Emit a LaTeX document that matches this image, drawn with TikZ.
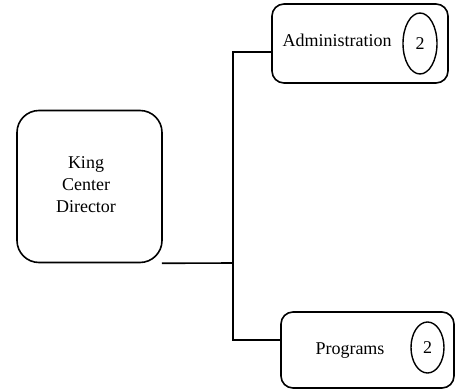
\documentclass[tikz,border=0pt]{standalone}
\usepackage{fontspec}
\setmainfont{Liberation Serif}
\usetikzlibrary{shapes.geometric}
\begin{document}
\begin{tikzpicture}[x=1pt,y=-1pt,
  box/.style={draw,line width=1.6pt,rounded corners=#1,inner sep=0pt},
  oval/.style={draw,ellipse,line width=1.4pt,inner sep=0pt},
  lbl/.style={font=\fontsize{18}{22}\selectfont,inner sep=0pt},
  conn/.style={line width=1.6pt}]
\useasboundingbox (0,0) rectangle (458,390);
\node[box=22pt,minimum width=145pt,minimum height=152pt] (dir) at (89.5,186.5) {};
\node[lbl,align=center] (dirtxt) at (86,185) {King\\Center\\Director};
\node[box=12pt,minimum width=176pt,minimum height=79pt] (adm) at (360,43.5) {};
\node[lbl] (admtxt) at (337,40) {Administration};
\node[oval,minimum width=34pt,minimum height=61pt] (admo) at (420,43.5) {};
\node[lbl] (admn) at (420,43.5) {2};
\node[box=12pt,minimum width=173pt,minimum height=76pt] (prg) at (367.5,350) {};
\node[lbl] (prgtxt) at (350,351) {Programs};
\node[oval,minimum width=33pt,minimum height=51pt] (prgo) at (427.5,347.5) {};
\node[lbl] (prgn) at (427.5,348) {2};
\coordinate (j) at (233,263);
\draw[conn] (dir.south east) ++(-1,0) -- (j);
\draw[conn] (adm.west |- 0,52) -| (j) |- (prg.west |- 0,340);
\end{tikzpicture}
\end{document}
